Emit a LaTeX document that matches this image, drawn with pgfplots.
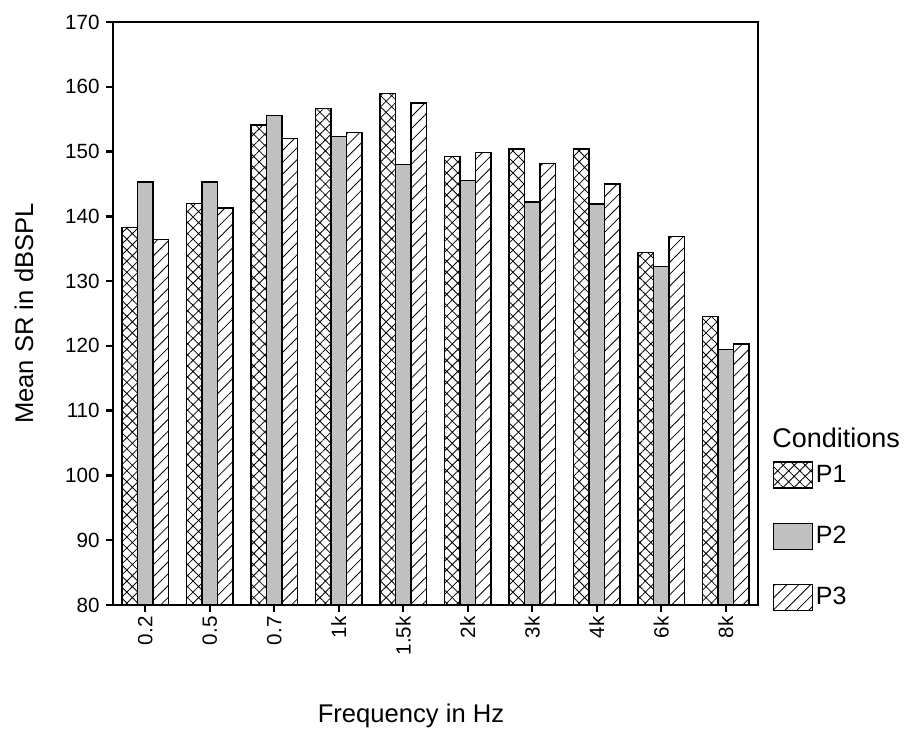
\documentclass[border=0pt]{standalone}
\usepackage{fontspec}
\setmainfont{Liberation Sans}
\usepackage{pgfplots}
\pgfplotsset{compat=1.18}
\usetikzlibrary{patterns.meta}

\definecolor{bargray}{RGB}{192,192,192}

\pgfplotstableread{
x p1 p2 p3
0 138.3 145.3 136.4
1 142.0 145.3 141.3
2 154.1 155.6 152.0
3 156.6 152.3 152.9
4 159.0 148.0 157.5
5 149.2 145.5 149.8
6 150.4 142.2 148.2
7 150.4 141.9 145.0
8 134.4 132.2 136.9
9 124.6 119.4 120.3
}\srdata

\begin{document}
\begin{tikzpicture}
\begin{axis}[
    scale only axis,
    width=322.5pt, height=291.5pt,
    clip=false,
    ybar=0pt, bar width=7.75pt,
    ymin=80, ymax=170,
    xmin=-0.5, xmax=9.5,
    ytick distance=10,
    xtick={0,...,9},
    xticklabels={0.2,0.5,0.7,1k,1.5k,2k,3k,4k,6k,8k},
    xtick pos=bottom, ytick pos=left,
    tick align=outside,
    major tick length=3.5pt,
    tick style={line width=1.2pt, black},
    axis line style={line width=0.9pt},
    /pgf/number format/assume math mode=true,
    ticklabel style={font=\fontsize{10.3}{12}\selectfont},
    xticklabel style={rotate=90, anchor=east, inner sep=2pt},
    yticklabel style={inner sep=3pt},
    xlabel={Frequency in Hz},
    ylabel={Mean SR in dBSPL},
    label style={font=\fontsize{12.8}{14}\selectfont},
    xlabel style={at={(axis description cs:0.462,0)}, anchor=base, yshift=-58.5pt},
    ylabel style={at={(axis description cs:-0.138,0.5)}, anchor=center, rotate=0},
    every axis plot/.append style={draw=black, line width=0.6pt},
    legend image code/.code={\draw[#1] (0pt,-6.5pt) rectangle (19.5pt,6.5pt);},
    legend style={at={(axis description cs:1.023,0.247)}, anchor=north west,
        draw=none, fill=none, inner sep=0pt, row sep=17pt,
        font=\fontsize{12.5}{14}\selectfont,
        nodes={inner sep=1.2pt}},
    legend cell align=left,
]
\addplot[pattern={Hatch[distance=3.9pt, angle=45, line width=0.4pt]}] table[x=x, y=p1] {\srdata};
\addplot[fill=bargray] table[x=x, y=p2] {\srdata};
\addplot[pattern={Lines[distance=4.2pt, angle=45, line width=0.4pt]}] table[x=x, y=p3] {\srdata};
\legend{P1,P2,P3}
\node[anchor=west, inner sep=0pt, font=\fontsize{13.5}{15}\selectfont]
    at (axis description cs:1.0217,0.2864) {Conditions};
\end{axis}
\pgfresetboundingbox
\path (-56.5pt,-62.5pt) rectangle (398pt,302.5pt);
\end{tikzpicture}
\end{document}
